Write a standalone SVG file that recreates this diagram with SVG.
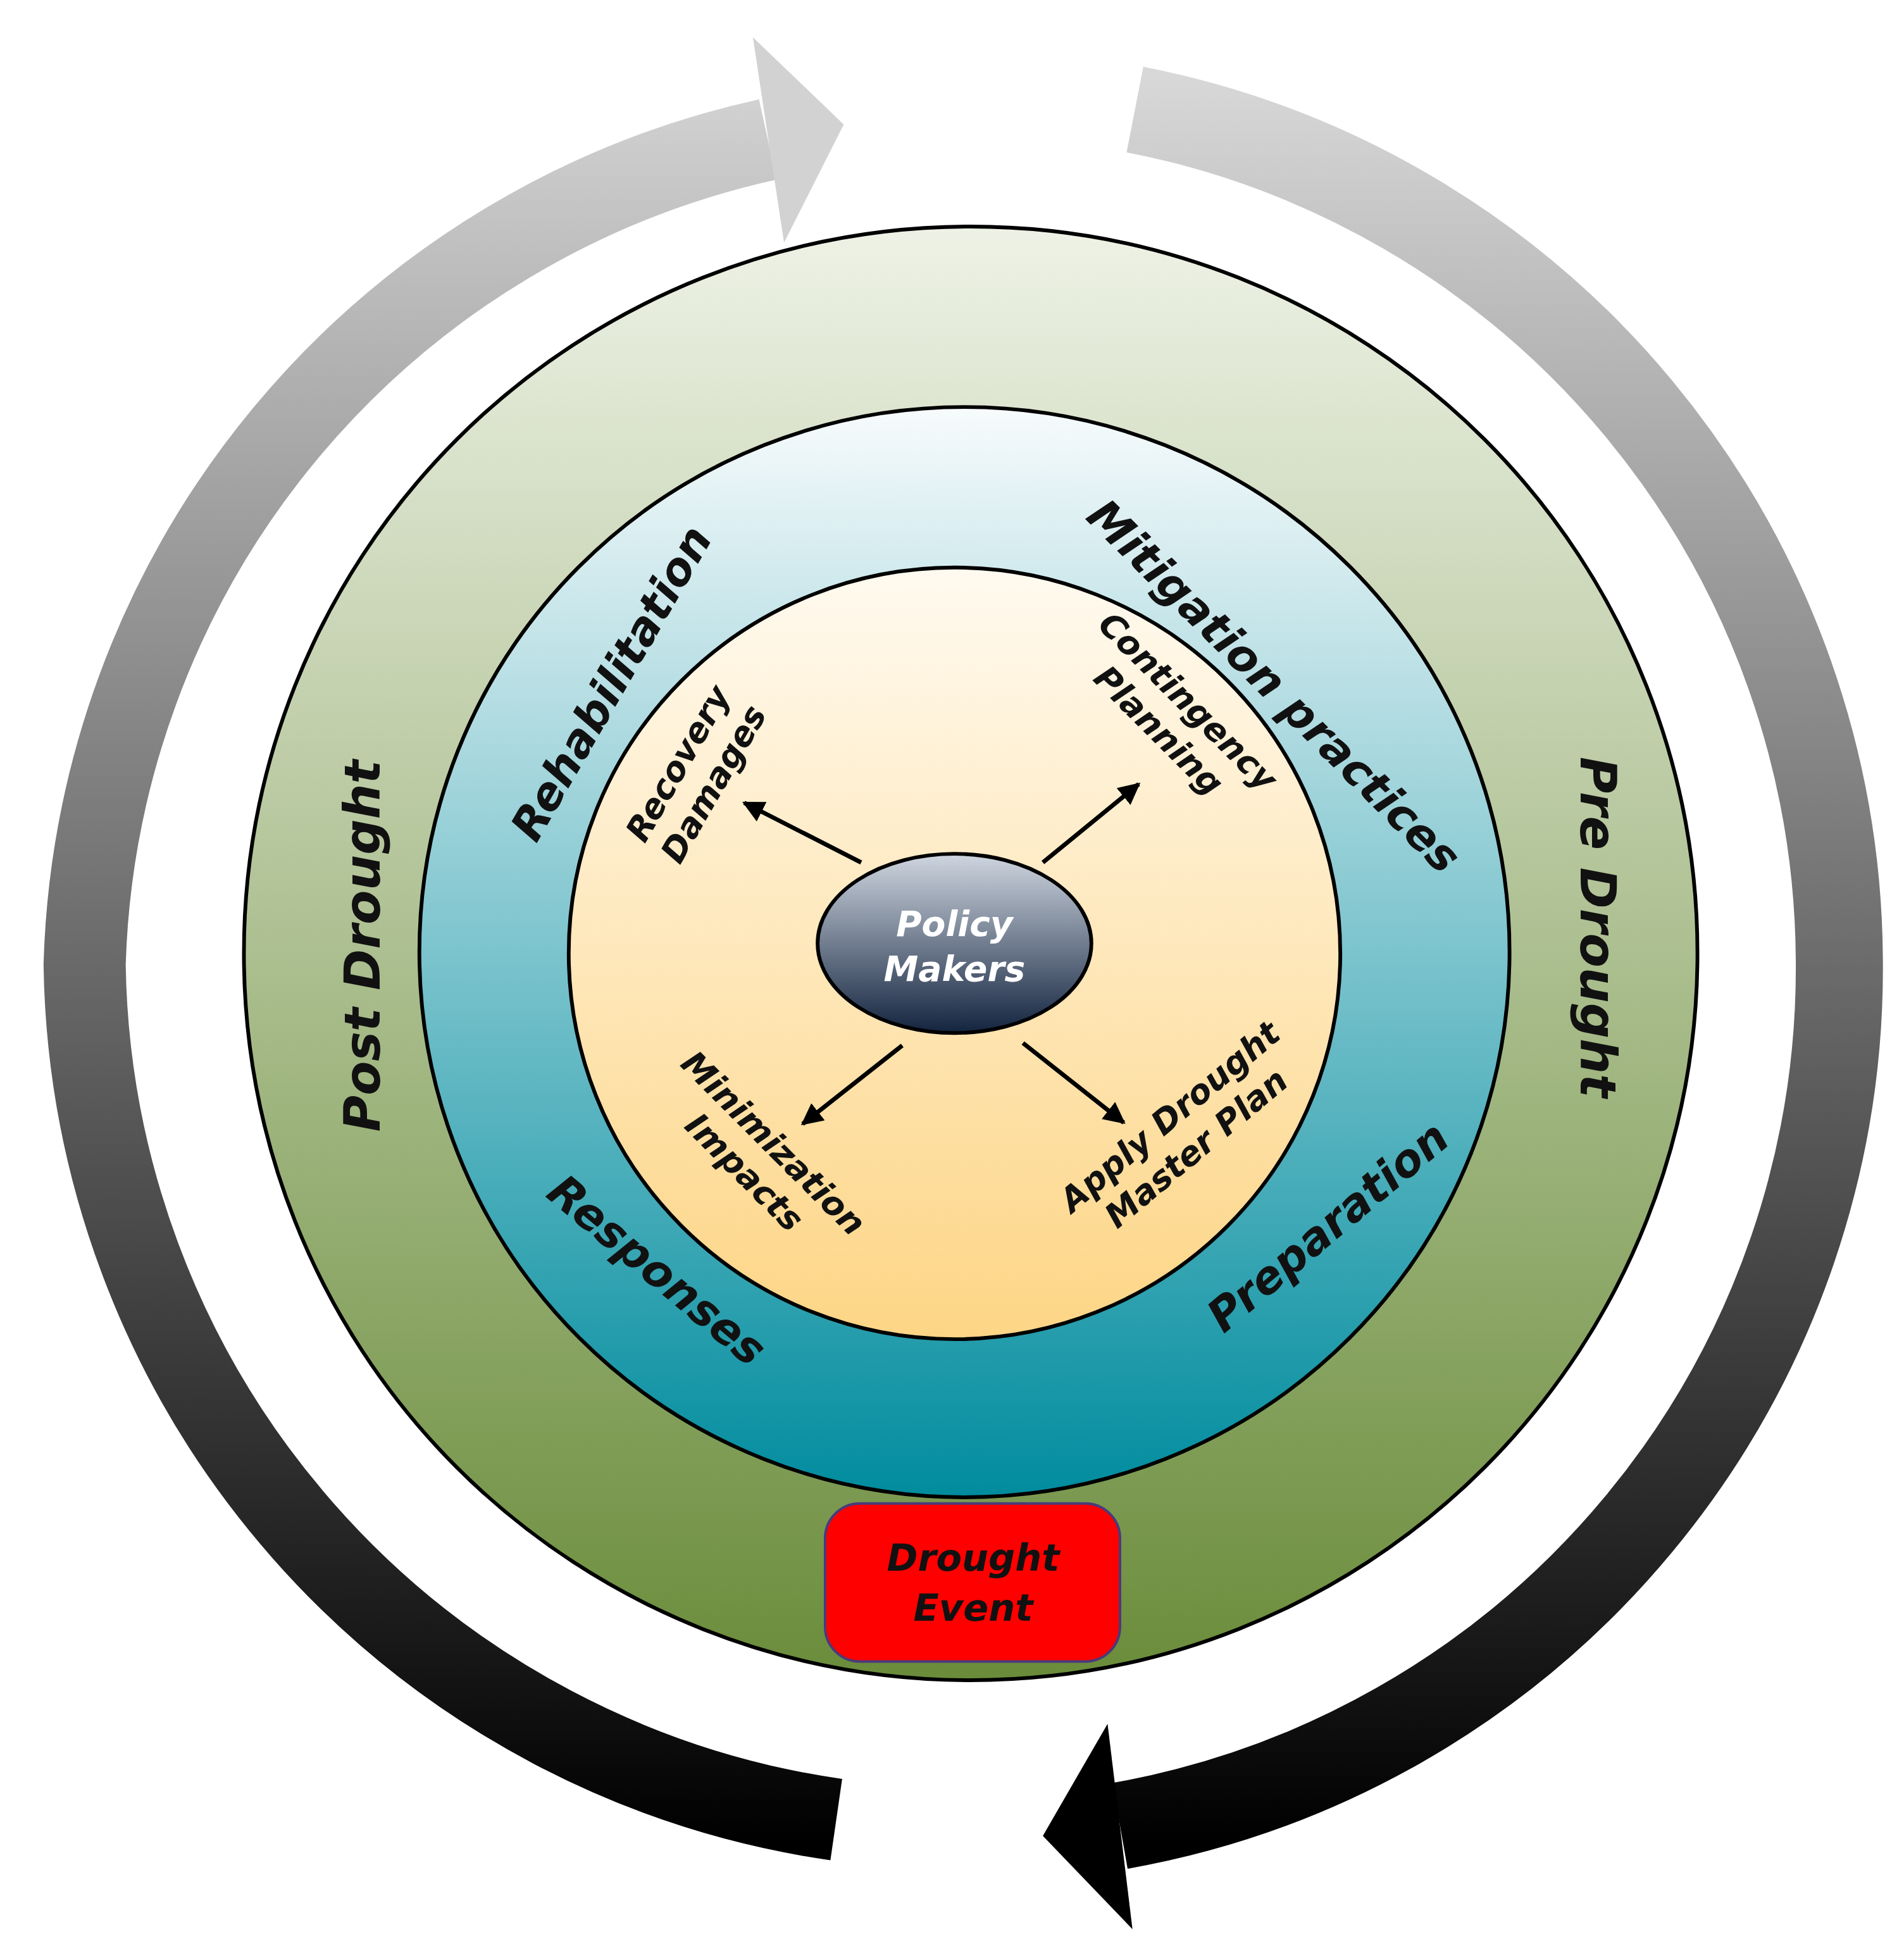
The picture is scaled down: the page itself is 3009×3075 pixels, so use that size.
<svg xmlns="http://www.w3.org/2000/svg" width="3009" height="3075" viewBox="0 0 3009 3075">
<style>
.t{font-family:"DejaVu Sans","Liberation Sans",sans-serif;font-weight:bold;font-style:italic;text-anchor:middle;fill:#111}
.ring{stroke:#000;stroke-width:3}
.conn{stroke:#000;stroke-width:3.5;fill:none;marker-end:url(#ah)}
</style>
<defs>
<linearGradient id="gL" gradientUnits="userSpaceOnUse" x1="0" y1="60" x2="0" y2="1480"><stop offset="0" stop-color="#d4d4d4"/><stop offset="1" stop-color="#000"/></linearGradient>
<linearGradient id="gR" gradientUnits="userSpaceOnUse" x1="0" y1="60" x2="0" y2="1480"><stop offset="0" stop-color="#d8d8d8"/><stop offset="1" stop-color="#000"/></linearGradient>
<linearGradient id="gG" x1="0" y1="0" x2="0" y2="1"><stop offset="0" stop-color="#eef2e6"/><stop offset="1" stop-color="#6a8c3a"/></linearGradient>
<linearGradient id="gB" x1="0" y1="0" x2="0" y2="1"><stop offset="0" stop-color="#f7fbfc"/><stop offset="1" stop-color="#008c9e"/></linearGradient>
<linearGradient id="gY" x1="0" y1="0" x2="0" y2="1"><stop offset="0" stop-color="#fffaf0"/><stop offset="1" stop-color="#fdd585"/></linearGradient>
<linearGradient id="gE" x1="0" y1="0" x2="0" y2="1"><stop offset="0" stop-color="#cfd6e0"/><stop offset="1" stop-color="#13243f"/></linearGradient>
<marker id="ah" viewBox="0 0 10 10" refX="9" refY="5" markerWidth="5" markerHeight="5" orient="auto" markerUnits="strokeWidth"><path d="M0,0 L10,5 L0,10 z" fill="#000"/></marker>
</defs>
<g transform="scale(1.9667)">
<g id="cycle-arrows">
<path d="M 672 1462 A 705 705 0 0 1 68 775 A 700 700 0 0 1 617 112" fill="none" stroke="url(#gL)" stroke-width="66"/>
<polygon points="605,30 678,100 630,195" fill="#d2d2d2"/>
<path d="M 912 88 A 700 700 0 0 1 1478 770 A 700 700 0 0 1 900 1467" fill="none" stroke="url(#gR)" stroke-width="70"/>
<polygon points="890,1385 838,1475 910,1550" fill="#000"/>
</g>
<g id="outer-ring"><circle class="ring" cx="780" cy="766" r="584" fill="url(#gG)"/>
<text class="t" font-size="40" transform="translate(305,760) rotate(-90)">Post Drought</text>
<text class="t" font-size="40" transform="translate(1270,745) rotate(90)">Pre Drought</text></g>
<g id="middle-ring"><circle class="ring" cx="775" cy="765" r="438" fill="url(#gB)"/>
<text class="t" font-size="36" transform="translate(502,555) rotate(-60)">Rehabilitation</text>
<text class="t" font-size="36" transform="translate(1015,560) rotate(45)">Mitigation practices</text>
<text class="t" font-size="36" transform="translate(520,1030) rotate(40)">Responses</text>
<text class="t" font-size="36" transform="translate(1075,995) rotate(-40)">Preparation</text></g>
<g id="inner-ring"><circle class="ring" cx="767" cy="766" r="310" fill="url(#gY)"/>
<text class="t" font-size="27" transform="translate(565,625) rotate(-60)"><tspan x="0" y="-14">Recovery</tspan><tspan x="0" y="19">Damages</tspan></text>
<text class="t" font-size="27" transform="translate(938,580) rotate(45)"><tspan x="0" y="-14">Contingency</tspan><tspan x="0" y="19">Planning</tspan></text>
<text class="t" font-size="27" transform="translate(605,935) rotate(45)"><tspan x="0" y="-14">Minimization</tspan><tspan x="0" y="19">Impacts</tspan></text>
<text class="t" font-size="27" transform="translate(955,915) rotate(-40)"><tspan x="0" y="-14">Apply Drought</tspan><tspan x="0" y="19">Master Plan</tspan></text></g>
<g id="connectors">
<line class="conn" x1="692" y1="693" x2="598" y2="645"/>
<line class="conn" x1="838" y1="693" x2="915" y2="630"/>
<line class="conn" x1="725" y1="840" x2="645" y2="903"/>
<line class="conn" x1="822" y1="838" x2="903" y2="902"/>
</g>
<g id="policy-makers"><ellipse cx="767" cy="758" rx="110" ry="72" fill="url(#gE)" stroke="#000" stroke-width="3"/>
<text class="t" font-size="28" style="fill:#fff"><tspan x="767" y="752">Policy</tspan><tspan x="767" y="788">Makers</tspan></text></g>
<g id="drought-event"><rect x="663" y="1208" width="237" height="127" rx="28" fill="#ff0000" stroke="#4a3a7a" stroke-width="2"/>
<text class="t" font-size="30"><tspan x="782" y="1262">Drought</tspan><tspan x="782" y="1302">Event</tspan></text></g>
</g>
</svg>
